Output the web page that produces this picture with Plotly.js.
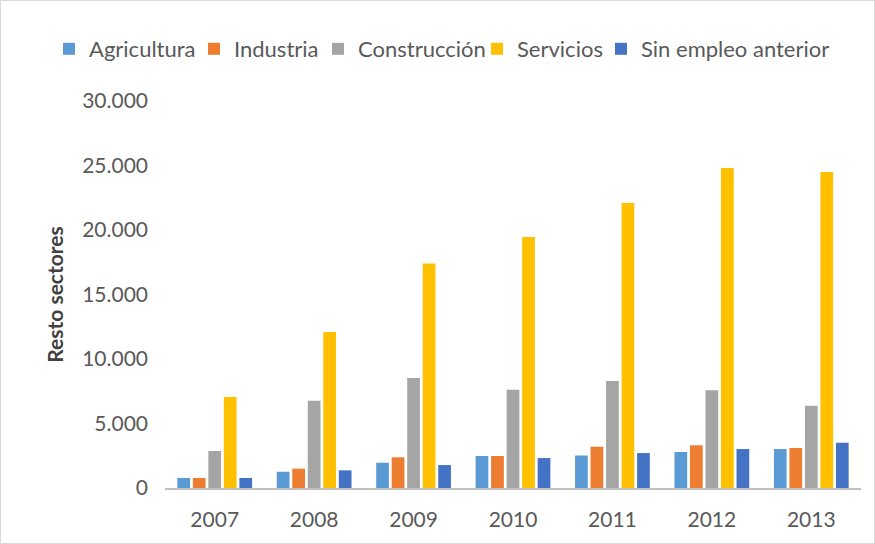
<!DOCTYPE html>
<html>
<head>
<meta charset="utf-8">
<script src="https://cdn.plot.ly/plotly-3.0.1.min.js"></script>
<style>
html,body{margin:0;padding:0;background:#fff;}
#chart{width:873px;height:542px;border:1px solid #d9d9d9;}
</style>
</head>
<body>
<div id="chart"></div>
<script>
const years = ['2007','2008','2009','2010','2011','2012','2013'];
const agricultura = [780, 1260, 1960, 2480, 2520, 2790, 3020];
const industria = [780, 1500, 2380, 2480, 3200, 3310, 3100];
const construccion = [2870, 6770, 8530, 7620, 8300, 7570, 6380];
const servicios = [7050, 12100, 17400, 19450, 22100, 24800, 24500];
const sinEmpleo = [780, 1370, 1780, 2320, 2710, 3020, 3510];

const seriesNames = ['Agricultura','Industria','Construcción','Servicios','Sin empleo anterior'];
const seriesValues = [agricultura, industria, construccion, servicios, sinEmpleo];
const colors = ['#5B9BD5','#ED7D31','#A5A5A5','#FFC000','#4472C4'];
const legendIds = ['legend','legend2','legend3','legend4','legend5'];
const legendTextX = [88, 233, 357, 516, 640];

const traces = seriesNames.map((n,i)=>({
  type:'bar', name:n, x:years, y:seriesValues[i],
  marker:{color:colors[i]}, legend:legendIds[i]
}));

const fam = 'Lato, "Open Sans", sans-serif';
const layout = {
  width:873, height:542,
  margin:{l:164, r:13, t:100, b:55},
  separators:',.',
  barmode:'group', bargap:0.22, bargroupgap:0.18,
  font:{family:fam, color:'#595959', size:21},
  paper_bgcolor:'#fff', plot_bgcolor:'#fff',
  showlegend:true,
  xaxis:{type:'category', showline:true, linecolor:'#bfbfbf', linewidth:2, ticks:'', showgrid:false,
    ticklabelstandoff:12,
    tickfont:{size:21, color:'#595959'}},
  yaxis:{range:[0,30000], dtick:5000, tickformat:',d', showgrid:false, zeroline:false, showline:false,
    ticks:'', ticklabelstandoff:16,
    tickfont:{size:21, color:'#595959'},
    title:{text:'Resto sectores', font:{size:21, color:'#404040', weight:'bold'}, standoff:12}}
};
legendIds.forEach((id,i)=>{
  layout[id] = {orientation:'h', xref:'container', yref:'container',
    x:(legendTextX[i]-40)/873, y:1-48/542, xanchor:'left', yanchor:'middle',
    font:{family:fam, size:22, color:'#595959'}, itemwidth:30, bgcolor:'rgba(0,0,0,0)'};
});
Plotly.newPlot('chart', traces, layout, {displayModeBar:false});
</script>
</body>
</html>
